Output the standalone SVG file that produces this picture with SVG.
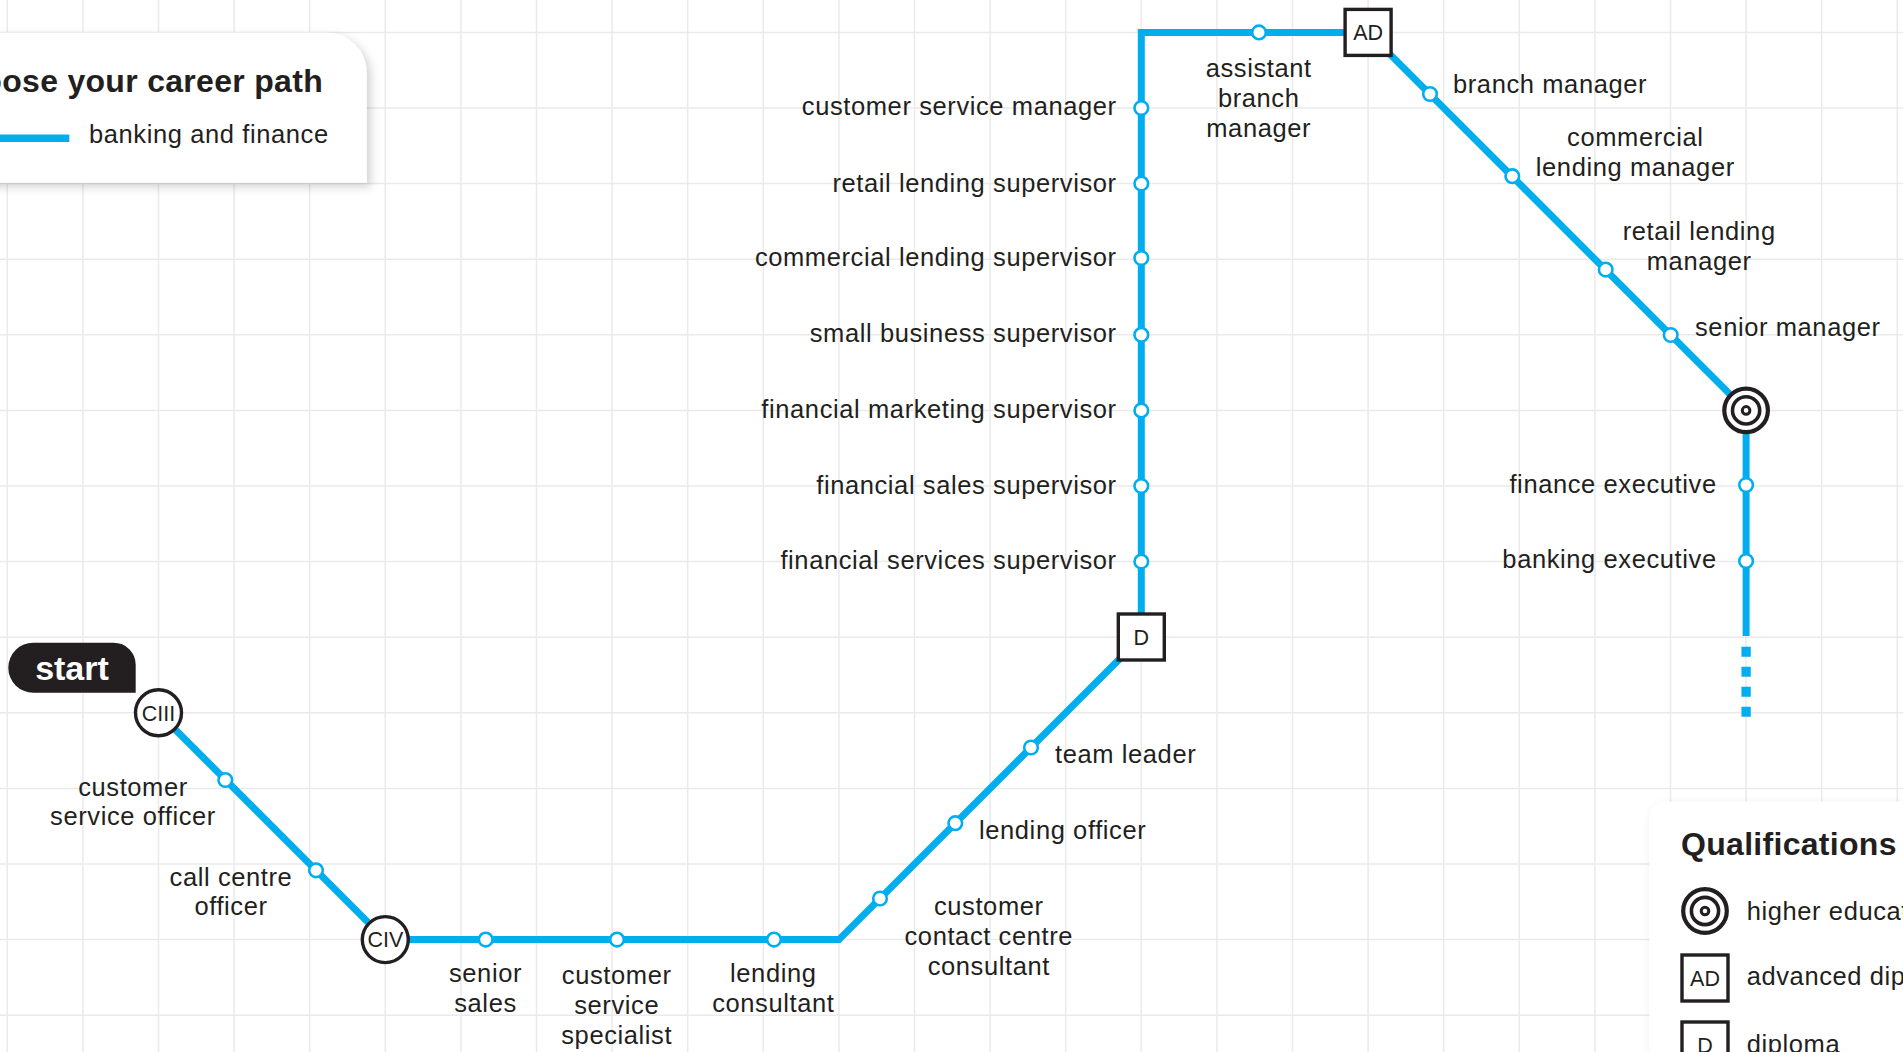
<svg xmlns="http://www.w3.org/2000/svg" width="1903" height="1052" viewBox="0 0 1903 1052">
<style>
.grid line{stroke:#EAEAEA;stroke-width:1.5}
.lbl{font-family:"Liberation Sans",Arial,sans-serif;font-size:25.5px;letter-spacing:0.6px;fill:#231F20}
.mid{text-anchor:middle}
.end{text-anchor:end}
.ttl{font-family:"Liberation Sans",Arial,sans-serif;font-size:32px;font-weight:bold;letter-spacing:0.3px;fill:#231F20}
.stop{fill:#fff;stroke:#00AEEF;stroke-width:2.6}
.q{fill:#fff;stroke:#231F20;stroke-width:3.4}
.qt{font-family:"Liberation Sans",Arial,sans-serif;font-size:21.5px;fill:#231F20;text-anchor:middle}
.ring{fill:none;stroke:#231F20}
.line{fill:none;stroke:#00AEEF;stroke-width:7;stroke-linejoin:miter}
</style>
<defs>
<filter id="sh" x="-10%" y="-20%" width="130%" height="150%">
<feDropShadow dx="4" dy="4" stdDeviation="5" flood-color="#000" flood-opacity="0.18"/>
</filter>
<g id="target">
<circle r="21.8" fill="#fff" stroke="#231F20" stroke-width="4.2"/>
<circle r="13.6" class="ring" stroke-width="3.6"/>
<circle r="3.8" fill="#fff" stroke="#231F20" stroke-width="3"/>
</g>
</defs>
<rect width="1903" height="1052" fill="#fff"/>
<g class="grid">
<line x1="7.3" y1="0" x2="7.3" y2="1052"/><line x1="82.9" y1="0" x2="82.9" y2="1052"/><line x1="158.5" y1="0" x2="158.5" y2="1052"/><line x1="234.1" y1="0" x2="234.1" y2="1052"/><line x1="309.7" y1="0" x2="309.7" y2="1052"/><line x1="385.3" y1="0" x2="385.3" y2="1052"/><line x1="460.9" y1="0" x2="460.9" y2="1052"/><line x1="536.5" y1="0" x2="536.5" y2="1052"/><line x1="612.1" y1="0" x2="612.1" y2="1052"/><line x1="687.7" y1="0" x2="687.7" y2="1052"/><line x1="763.3" y1="0" x2="763.3" y2="1052"/><line x1="838.9" y1="0" x2="838.9" y2="1052"/><line x1="914.5" y1="0" x2="914.5" y2="1052"/><line x1="990.1" y1="0" x2="990.1" y2="1052"/><line x1="1065.7" y1="0" x2="1065.7" y2="1052"/><line x1="1141.3" y1="0" x2="1141.3" y2="1052"/><line x1="1216.9" y1="0" x2="1216.9" y2="1052"/><line x1="1292.5" y1="0" x2="1292.5" y2="1052"/><line x1="1368.1" y1="0" x2="1368.1" y2="1052"/><line x1="1443.7" y1="0" x2="1443.7" y2="1052"/><line x1="1519.3" y1="0" x2="1519.3" y2="1052"/><line x1="1594.9" y1="0" x2="1594.9" y2="1052"/><line x1="1670.5" y1="0" x2="1670.5" y2="1052"/><line x1="1746.1" y1="0" x2="1746.1" y2="1052"/><line x1="1821.7" y1="0" x2="1821.7" y2="1052"/><line x1="1897.3" y1="0" x2="1897.3" y2="1052"/>
<line x1="0" y1="32.4" x2="1903" y2="32.4"/><line x1="0" y1="108" x2="1903" y2="108"/><line x1="0" y1="183.6" x2="1903" y2="183.6"/><line x1="0" y1="259.2" x2="1903" y2="259.2"/><line x1="0" y1="334.8" x2="1903" y2="334.8"/><line x1="0" y1="410.4" x2="1903" y2="410.4"/><line x1="0" y1="486" x2="1903" y2="486"/><line x1="0" y1="561.6" x2="1903" y2="561.6"/><line x1="0" y1="637.2" x2="1903" y2="637.2"/><line x1="0" y1="712.8" x2="1903" y2="712.8"/><line x1="0" y1="788.4" x2="1903" y2="788.4"/><line x1="0" y1="864" x2="1903" y2="864"/><line x1="0" y1="939.6" x2="1903" y2="939.6"/><line x1="0" y1="1015.2" x2="1903" y2="1015.2"/>
</g>
<g id="legend">
<path d="M-30,32.7 H326.7 A40,40 0 0 1 366.7,72.7 V182.7 H-30 Z" fill="#fff" filter="url(#sh)"/>
<text class="ttl" x="323" y="91.7" text-anchor="end">Choose your career path</text>
<line x1="0" y1="138.3" x2="69.3" y2="138.3" stroke="#00AEEF" stroke-width="7.5"/>
<text class="lbl" x="89" y="143.3">banking and finance</text>
</g>
<g id="connectors">
<path class="line" d="M158.5,712.8 L385.3,939.6 L838.9,939.6 L1141.3,637.2 L1141.3,32.4 L1368.1,32.4 L1746.1,410.4 L1746.1,636"/>
<line x1="1746.1" y1="646.7" x2="1746.1" y2="717" stroke="#00AEEF" stroke-width="9.3" stroke-dasharray="10 10"/>
</g>
<g id="start">
<path d="M33.3,642.7 H113.7 A22,22 0 0 1 135.7,664.7 V692.7 H33.3 A25,25 0 0 1 33.3,642.7 Z" fill="#231F20"/>
<text x="72" y="680" font-family="Liberation Sans,Arial,sans-serif" font-size="34" font-weight="bold" fill="#fff" text-anchor="middle">start</text>
</g>
<g id="ciii"><circle cx="158.5" cy="712.8" r="23" class="q"/><text class="qt" x="158.5" y="720.6">CIII</text></g>
<g id="civ"><circle cx="385.3" cy="939.6" r="23" class="q"/><text class="qt" x="385.3" y="947.4">CIV</text></g>
<g id="d"><rect x="1118.3" y="614" width="46" height="46" class="q"/><text class="qt" x="1141.3" y="645">D</text></g>
<g id="ad"><rect x="1345.1" y="9.4" width="46" height="46" class="q"/><text class="qt" x="1368.1" y="40.2">AD</text></g>
<g id="he"><use href="#target" x="1746.1" y="410.4"/></g>
<g id="n-cso"><circle class="stop" cx="225.3" cy="780" r="6.8"/><text class="lbl mid"><tspan x="133" y="795.7">customer</tspan><tspan x="133" y="825">service officer</tspan></text></g>
<g id="n-cco"><circle class="stop" cx="316" cy="870.3" r="6.8"/><text class="lbl mid"><tspan x="231" y="885.7">call centre</tspan><tspan x="231" y="915">officer</tspan></text></g>
<g id="n-ss"><circle class="stop" cx="485.7" cy="939.6" r="6.8"/><text class="lbl mid"><tspan x="485.5" y="981.7">senior</tspan><tspan x="485.5" y="1011.7">sales</tspan></text></g>
<g id="n-css"><circle class="stop" cx="617" cy="939.6" r="6.8"/><text class="lbl mid"><tspan x="616.7" y="984">customer</tspan><tspan x="616.7" y="1014.3">service</tspan><tspan x="616.7" y="1044.3">specialist</tspan></text></g>
<g id="n-lc"><circle class="stop" cx="774" cy="939.6" r="6.8"/><text class="lbl mid"><tspan x="773.3" y="981.7">lending</tspan><tspan x="773.3" y="1011.7">consultant</tspan></text></g>
<g id="n-cccc"><circle class="stop" cx="880" cy="898.5" r="6.8"/><text class="lbl mid"><tspan x="988.8" y="915">customer</tspan><tspan x="988.8" y="945">contact centre</tspan><tspan x="988.8" y="975">consultant</tspan></text></g>
<g id="n-lo"><circle class="stop" cx="955.3" cy="823.2" r="6.8"/><text class="lbl" x="979" y="839.3">lending officer</text></g>
<g id="n-tl"><circle class="stop" cx="1031" cy="747.5" r="6.8"/><text class="lbl" x="1055" y="762.7">team leader</text></g>
<g id="n-fss"><circle class="stop" cx="1141.3" cy="561.6" r="6.8"/><text class="lbl end" x="1116.7" y="569.3">financial services supervisor</text></g>
<g id="n-fsls"><circle class="stop" cx="1141.3" cy="486" r="6.8"/><text class="lbl end" x="1116.7" y="494">financial sales supervisor</text></g>
<g id="n-fms"><circle class="stop" cx="1141.3" cy="410.4" r="6.8"/><text class="lbl end" x="1116.7" y="418.3">financial marketing supervisor</text></g>
<g id="n-sbs"><circle class="stop" cx="1141.3" cy="334.8" r="6.8"/><text class="lbl end" x="1116.7" y="342.3">small business supervisor</text></g>
<g id="n-cls"><circle class="stop" cx="1141.3" cy="258" r="6.8"/><text class="lbl end" x="1116.7" y="265.7">commercial lending supervisor</text></g>
<g id="n-rls"><circle class="stop" cx="1141.3" cy="183.6" r="6.8"/><text class="lbl end" x="1116.7" y="191.7">retail lending supervisor</text></g>
<g id="n-csm"><circle class="stop" cx="1141.3" cy="108" r="6.8"/><text class="lbl end" x="1116.7" y="115">customer service manager</text></g>
<g id="n-abm"><circle class="stop" cx="1259" cy="32.4" r="6.8"/><text class="lbl mid"><tspan x="1258.7" y="76.7">assistant</tspan><tspan x="1258.7" y="107">branch</tspan><tspan x="1258.7" y="136.7">manager</tspan></text></g>
<g id="n-bm"><circle class="stop" cx="1430" cy="94" r="6.8"/><text class="lbl" x="1453" y="93.3">branch manager</text></g>
<g id="n-clm"><circle class="stop" cx="1512.3" cy="176.2" r="6.8"/><text class="lbl mid"><tspan x="1635.3" y="145.7">commercial</tspan><tspan x="1635.3" y="175.7">lending manager</tspan></text></g>
<g id="n-rlm"><circle class="stop" cx="1605.7" cy="269.6" r="6.8"/><text class="lbl mid"><tspan x="1699.2" y="240">retail lending</tspan><tspan x="1699.2" y="270">manager</tspan></text></g>
<g id="n-sm"><circle class="stop" cx="1670.7" cy="335" r="6.8"/><text class="lbl" x="1695" y="336">senior manager</text></g>
<g id="n-fe"><circle class="stop" cx="1746.1" cy="485" r="6.8"/><text class="lbl end" x="1716.7" y="492.7">finance executive</text></g>
<g id="n-be"><circle class="stop" cx="1746.1" cy="561" r="6.8"/><text class="lbl end" x="1716.7" y="568.3">banking executive</text></g>
<g id="qualifications">
<rect x="1649.3" y="801.7" width="300" height="300" rx="16" fill="#fff" filter="url(#sh)"/>
<text class="ttl" x="1681" y="855">Qualifications</text>
<use href="#target" x="1705" y="911"/>
<text class="lbl" x="1746.7" y="920">higher education</text>
<rect x="1682" y="955" width="46" height="46" class="q"/><text class="qt" x="1705" y="985.8">AD</text>
<text class="lbl" x="1746.7" y="985">advanced diploma</text>
<rect x="1682" y="1022" width="46" height="46" class="q"/><text class="qt" x="1705" y="1052.8">D</text>
<text class="lbl" x="1746.7" y="1053">diploma</text>
</g>
</svg>
